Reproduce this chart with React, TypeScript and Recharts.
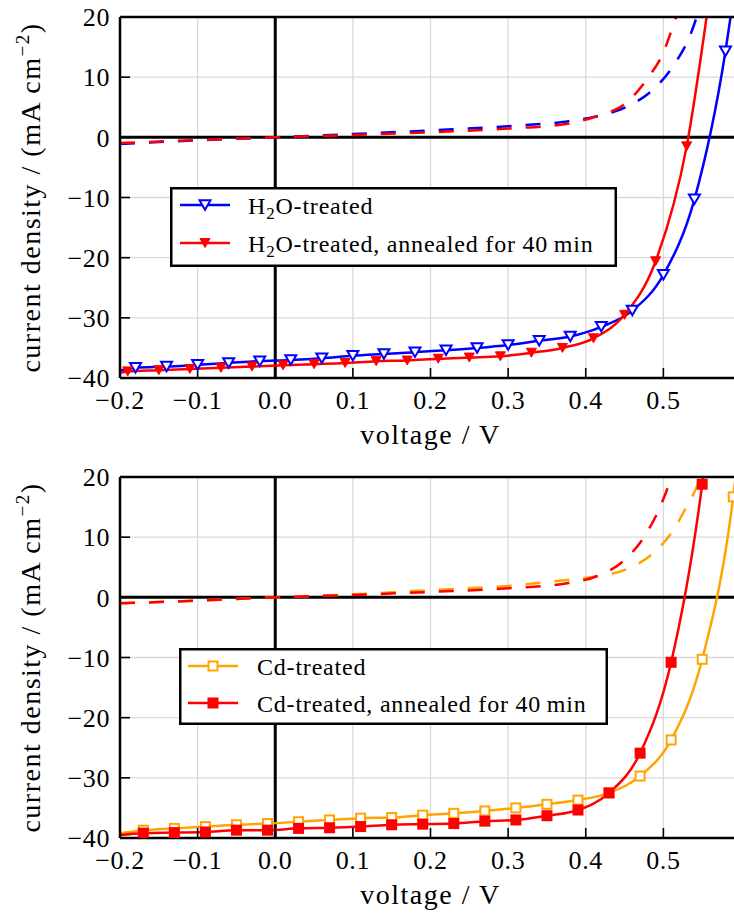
import React from 'react';
import { ComposedChart, Line, XAxis, YAxis, CartesianGrid, ReferenceLine, Legend } from 'recharts';

// ---------- axes ----------
const voltageTicks = [-0.2, -0.1, 0, 0.1, 0.2, 0.3, 0.4, 0.5];
const voltageFrameTicks = [-0.2, -0.1, 0, 0.1, 0.2, 0.3, 0.4, 0.5, 0.6];
const currentTicks = [-40, -30, -20, -10, 0, 10, 20];
const voltageDomain = [-0.2, 0.6];
const currentDomain = [-40, 20];

// ---------- top panel: H2O-treated ----------
const h2oMarkV = [-0.18, -0.14, -0.1, -0.06, -0.02, 0.02, 0.06, 0.1, 0.14, 0.18, 0.22, 0.26, 0.3, 0.34, 0.38, 0.42, 0.46, 0.5, 0.54, 0.58];
const h2oMarkJ = [-38.3, -38.1, -37.8, -37.5, -37.2, -37.0, -36.7, -36.3, -36.0, -35.7, -35.4, -35.0, -34.5, -33.8, -33.1, -31.5, -28.8, -22.85, -10.3, 14.3];
const h2oEdgeV = [-0.2, 0.59];
const h2oEdgeJ = [-38.75, 23];
const h2oDarkV = [-0.2, -0.1, 0, 0.1, 0.2, 0.3, 0.376, 0.415, 0.453, 0.489, 0.515, 0.534, 0.546];
const h2oDarkJ = [-1.1, -0.5, 0, 0.55, 1.15, 1.85, 2.65, 3.5, 5.1, 8.2, 12.3, 16.8, 21.2];

// ---------- top panel: H2O-treated, annealed ----------
const h2oAnnMarkV = [-0.19, -0.15, -0.11, -0.07, -0.03, 0.01, 0.05, 0.09, 0.13, 0.17, 0.21, 0.25, 0.29, 0.33, 0.37, 0.41, 0.45, 0.49, 0.53];
const h2oAnnMarkJ = [-38.9, -38.7, -38.5, -38.3, -38.1, -37.9, -37.7, -37.5, -37.2, -37.1, -36.8, -36.6, -36.4, -35.8, -35.0, -33.4, -29.5, -20.6, -1.5];
const h2oAnnEdgeV = [-0.2, 0.56];
const h2oAnnEdgeJ = [-39.1, 24];
const h2oAnnDarkV = [-0.2, -0.1, 0, 0.1, 0.2, 0.3, 0.376, 0.415, 0.452, 0.479, 0.5, 0.514, 0.52];
const h2oAnnDarkJ = [-0.95, -0.45, 0, 0.4, 0.85, 1.45, 2.25, 3.55, 5.7, 9.7, 14.1, 19.1, 21.2];

// ---------- bottom panel: Cd-treated ----------
const cdMarkV = [-0.17, -0.13, -0.09, -0.05, -0.01, 0.03, 0.07, 0.11, 0.15, 0.19, 0.23, 0.27, 0.31, 0.35, 0.39, 0.43, 0.47, 0.51, 0.55, 0.59];
const cdMarkJ = [-38.7, -38.4, -38.1, -37.8, -37.6, -37.3, -37.0, -36.7, -36.6, -36.2, -35.9, -35.5, -35.0, -34.4, -33.7, -32.5, -29.7, -23.7, -10.3, 16.7];
const cdEdgeV = [-0.2, 0.6];
const cdEdgeJ = [-39.2, 28];
const cdDarkV = [-0.2, -0.1, 0, 0.1, 0.2, 0.3, 0.376, 0.415, 0.455, 0.489, 0.513, 0.53, 0.543, 0.55];
const cdDarkJ = [-1.0, -0.55, 0, 0.5, 1.2, 1.9, 2.9, 3.5, 4.8, 7.6, 11.2, 15.1, 18.4, 21.0];

// ---------- bottom panel: Cd-treated, annealed ----------
const cdAnnMarkV = [-0.17, -0.13, -0.09, -0.05, -0.01, 0.03, 0.07, 0.11, 0.15, 0.19, 0.23, 0.27, 0.31, 0.35, 0.39, 0.43, 0.47, 0.51, 0.55];
const cdAnnMarkJ = [-39.2, -39.1, -39.0, -38.7, -38.7, -38.4, -38.3, -38.1, -37.8, -37.7, -37.6, -37.2, -37.0, -36.3, -35.35, -32.5, -25.9, -10.8, 18.8];
const cdAnnEdgeV = [-0.2, 0.556];
const cdAnnEdgeJ = [-39.5, 25];
const cdAnnDarkV = [-0.2, -0.1, 0, 0.1, 0.2, 0.3, 0.376, 0.415, 0.449, 0.476, 0.496, 0.509, 0.513];
const cdAnnDarkJ = [-1.0, -0.55, 0, 0.4, 0.9, 1.5, 2.35, 3.55, 6.1, 10.2, 15.1, 19.5, 21.2];

// ---------- helpers ----------
type Pt = { v: number; j: number };
const pts = (v: number[], j: number[]): Pt[] => v.map((x, i) => ({ v: x, j: j[i] }));
const withEdges = (mv: number[], mj: number[], ev: number[], ej: number[]): Pt[] =>
  [...pts(mv, mj), ...pts(ev, ej)].sort((a, b) => a.v - b.v);

const BLUE = '#0000ff';
const RED = '#ff0000';
const ORANGE = '#ffa500';
const FONT = '"Liberation Serif", "DejaVu Serif", serif';

const fmtV = (v: number) => (v < 0 ? '\u2212' : '') + Math.abs(v).toFixed(1);
const fmtJ = (v: number) => (v < 0 ? '\u2212' : '') + Math.abs(v).toString();

type MarkerKind = 'triOpen' | 'triFill' | 'sqOpen' | 'sqFill';

function Marker({ kind, cx, cy, color }: { kind: MarkerKind; cx: number; cy: number; color: string }) {
  if (kind === 'triOpen') {
    const w = 11, h = 9.5;
    return <polygon points={`${cx - w / 2},${cy - h / 2} ${cx + w / 2},${cy - h / 2} ${cx},${cy + h / 2}`} fill="#fff" stroke={color} strokeWidth={2} />;
  }
  if (kind === 'triFill') {
    const w = 10, h = 9;
    return <polygon points={`${cx - w / 2},${cy - h / 2} ${cx + w / 2},${cy - h / 2} ${cx},${cy + h / 2}`} fill={color} stroke={color} strokeWidth={1} />;
  }
  if (kind === 'sqOpen') {
    const s = 9;
    return <rect x={cx - s / 2} y={cy - s / 2} width={s} height={s} fill="#fff" stroke={color} strokeWidth={2} />;
  }
  const s = 11;
  return <rect x={cx - s / 2} y={cy - s / 2} width={s} height={s} fill={color} />;
}

type SeriesDef = {
  name: string;
  color: string;
  marker: MarkerKind;
  marks: Pt[];
  line: Pt[];
  dark: Pt[];
};

type LegendItem = { color: string; marker: MarkerKind; pre: string; sub?: string; post: string };

function LegendBox({ items, width, height, rowY, textX, lineX }: { items: LegendItem[]; width: number; height: number; rowY: number[]; textX: number; lineX: [number, number] }) {
  return (
    <svg width={width} height={height} style={{ display: 'block' }}>
      <rect x={1.25} y={1.25} width={width - 2.5} height={height - 2.5} fill="#fff" stroke="#000" strokeWidth={2.5} />
      {items.map((it, i) => (
        <g key={i}>
          <line x1={lineX[0]} x2={lineX[1]} y1={rowY[i]} y2={rowY[i]} stroke={it.color} strokeWidth={2.5} />
          <Marker kind={it.marker} cx={(lineX[0] + lineX[1]) / 2} cy={rowY[i]} color={it.color} />
          <text x={textX} y={rowY[i] + 9} fontFamily={FONT} fontSize={24} letterSpacing={0.8} fill="#000">
            {it.pre}
            {it.sub ? (
              <tspan fontSize={17} dy={5}>{it.sub}</tspan>
            ) : null}
            {it.sub ? <tspan dy={-5}>{it.post}</tspan> : it.post}
          </text>
        </g>
      ))}
    </svg>
  );
}

function YTitle(props: any) {
  const vb = props.viewBox || { x: 119, y: 17, width: 1, height: 361 };
  const x = vb.x - 79;
  const y = vb.y + vb.height / 2;
  return (
    <text x={x} y={y} transform={`rotate(-90, ${x}, ${y})`} textAnchor="middle" fontFamily={FONT} fontSize={28} letterSpacing={1.5} fill="#000">
      current density / (mA{'\u2009'}cm
      <tspan fontSize={19} dy={-11}>{'\u2212'}2</tspan>
      <tspan dy={11}>)</tspan>
    </text>
  );
}

function XTitle(props: any) {
  const vb = props.viewBox || { x: 120, y: 378, width: 621, height: 1 };
  return (
    <text x={vb.x + vb.width / 2} y={vb.y + 66} textAnchor="middle" fontFamily={FONT} fontSize={28} letterSpacing={1.5} fill="#000">
      voltage / V
    </text>
  );
}

const tickStyle = { fontFamily: FONT, fontSize: 26, fill: '#000', letterSpacing: 0.6 } as any;
const frameLine = { stroke: '#000', strokeWidth: 2.5 };
const tickLineStyle = { stroke: '#000', strokeWidth: 1.6 };

function Panel({ series, legend, legendPos }: { series: SeriesDef[]; legend: React.ReactNode; legendPos: { left: number; top: number } }) {
  return (
    <ComposedChart width={742} height={460} margin={{ top: 16, right: 0, left: 119, bottom: 81 }}>
      <CartesianGrid stroke="#d9d9d9" strokeWidth={1.3} />
      <ReferenceLine x={0} stroke="#000" strokeWidth={3} />
      <ReferenceLine y={0} stroke="#000" strokeWidth={3} />
      <XAxis
        dataKey="v"
        type="number"
        domain={voltageDomain}
        ticks={voltageTicks}
        interval={0}
        allowDataOverflow
        height={1}
        tickSize={-10}
        tickMargin={23}
        tickFormatter={fmtV}
        tick={tickStyle}
        axisLine={frameLine}
        tickLine={tickLineStyle}
        label={<XTitle />}
      />
      <XAxis
        xAxisId="top"
        orientation="top"
        type="number"
        domain={voltageDomain}
        ticks={voltageFrameTicks}
        interval={0}
        allowDataOverflow
        height={1}
        tickSize={-10}
        tick={false}
        axisLine={frameLine}
        tickLine={tickLineStyle}
      />
      <YAxis
        type="number"
        domain={currentDomain}
        ticks={currentTicks}
        interval={0}
        allowDataOverflow
        width={1}
        tickSize={-10}
        tickMargin={20}
        tickFormatter={fmtJ}
        tick={tickStyle}
        axisLine={frameLine}
        tickLine={tickLineStyle}
        label={<YTitle />}
      />
      <YAxis
        yAxisId="right"
        orientation="right"
        type="number"
        domain={currentDomain}
        ticks={currentTicks}
        interval={0}
        allowDataOverflow
        width={1}
        tickSize={-10}
        tick={false}
        axisLine={frameLine}
        tickLine={tickLineStyle}
      />
      {series.map((s) => (
        <Line
          key={s.name + '-dark'}
          data={s.dark}
          dataKey="j"
          type="monotone"
          stroke={s.color}
          strokeWidth={2.5}
          strokeDasharray="15 14"
          dot={false}
          activeDot={false}
          isAnimationActive={false}
        />
      ))}
      {series.map((s) => (
        <Line
          key={s.name + '-light'}
          data={s.line}
          dataKey="j"
          type="monotone"
          stroke={s.color}
          strokeWidth={2.5}
          dot={false}
          activeDot={false}
          isAnimationActive={false}
        />
      ))}
      {series.map((s) => (
        <Line
          key={s.name + '-marks'}
          data={s.marks}
          dataKey="j"
          stroke="none"
          dot={(p: any) => <Marker key={`${s.name}-${p.index}`} kind={s.marker} cx={p.cx} cy={p.cy} color={s.color} />}
          activeDot={false}
          isAnimationActive={false}
        />
      ))}
      <Legend
        layout="horizontal"
        verticalAlign="middle"
        align="center"
        wrapperStyle={{ left: legendPos.left, top: legendPos.top, width: 'auto', height: 'auto' }}
        content={() => legend}
      />
    </ComposedChart>
  );
}

const topSeries: SeriesDef[] = [
  { name: 'h2o', color: BLUE, marker: 'triOpen', marks: pts(h2oMarkV, h2oMarkJ), line: withEdges(h2oMarkV, h2oMarkJ, h2oEdgeV, h2oEdgeJ), dark: pts(h2oDarkV, h2oDarkJ) },
  { name: 'h2oAnn', color: RED, marker: 'triFill', marks: pts(h2oAnnMarkV, h2oAnnMarkJ), line: withEdges(h2oAnnMarkV, h2oAnnMarkJ, h2oAnnEdgeV, h2oAnnEdgeJ), dark: pts(h2oAnnDarkV, h2oAnnDarkJ) },
];

const bottomSeries: SeriesDef[] = [
  { name: 'cd', color: ORANGE, marker: 'sqOpen', marks: pts(cdMarkV, cdMarkJ), line: withEdges(cdMarkV, cdMarkJ, cdEdgeV, cdEdgeJ), dark: pts(cdDarkV, cdDarkJ) },
  { name: 'cdAnn', color: RED, marker: 'sqFill', marks: pts(cdAnnMarkV, cdAnnMarkJ), line: withEdges(cdAnnMarkV, cdAnnMarkJ, cdAnnEdgeV, cdAnnEdgeJ), dark: pts(cdAnnDarkV, cdAnnDarkJ) },
];

const topLegendItems: LegendItem[] = [
  { color: BLUE, marker: 'triOpen', pre: 'H', sub: '2', post: 'O-treated' },
  { color: RED, marker: 'triFill', pre: 'H', sub: '2', post: 'O-treated, annealed for 40\u2009min' },
];
const bottomLegendItems: LegendItem[] = [
  { color: ORANGE, marker: 'sqOpen', pre: 'Cd-treated', post: '' },
  { color: RED, marker: 'sqFill', pre: 'Cd-treated, annealed for 40\u2009min', post: '' },
];

export default function App() {
  return (
    <div style={{ position: 'absolute', left: 0, top: 0, width: 734, height: 913, overflow: 'hidden', background: '#fff' }}>
      <Panel
        series={topSeries}
        legendPos={{ left: 170, top: 187 }}
        legend={<LegendBox items={topLegendItems} width={447} height={80} rowY={[18, 56]} textX={78} lineX={[10, 60]} />}
      />
      <Panel
        series={bottomSeries}
        legendPos={{ left: 179, top: 188 }}
        legend={<LegendBox items={bottomLegendItems} width={429} height={77} rowY={[18, 55]} textX={78} lineX={[9, 59]} />}
      />
    </div>
  );
}
